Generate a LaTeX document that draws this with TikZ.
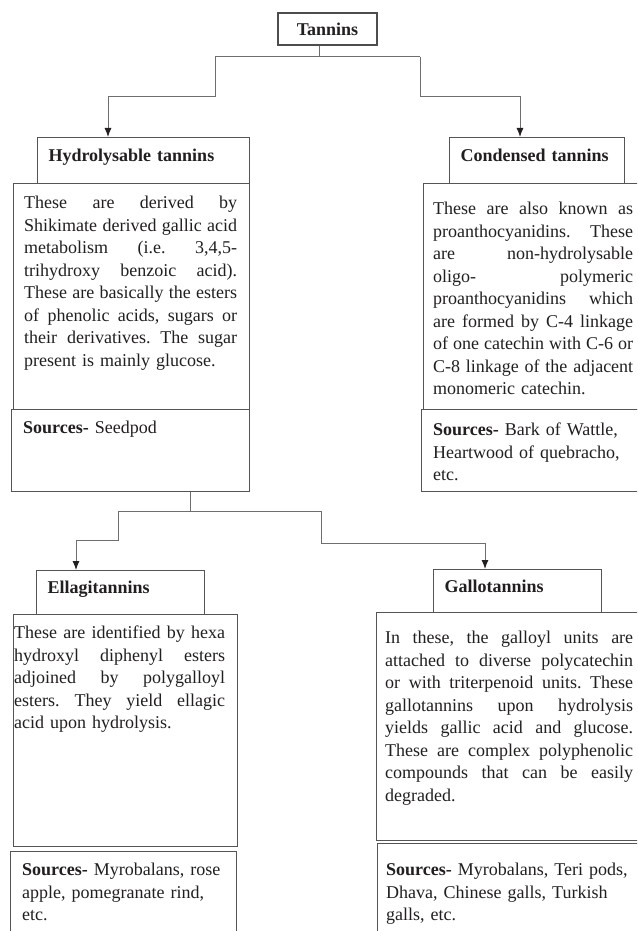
\documentclass[tikz,border=0pt]{standalone}
\usepackage{fontspec}
\setmainfont{Liberation Serif}
\usetikzlibrary{arrows.meta,calc}
\definecolor{ink}{HTML}{231F20}
\definecolor{frame}{HTML}{555555}
\definecolor{wire}{HTML}{6E6E6E}
\definecolor{stemblue}{HTML}{4A6FB5}
\newcommand\jl[1]{\makebox[\hsize][s]{\spaceskip=.25em plus 1fil\xspaceskip=.25em plus 1fil\relax #1}}
\begin{document}
\begin{tikzpicture}[x=1pt,y=-1pt,
  font=\fontsize{18}{22.5}\selectfont\frenchspacing, text=ink,
  frm/.style={draw=frame, line width=1.1pt, inner sep=0pt, anchor=north west},
  head/.style={frm, text width=#1, align=left, inner xsep=11pt, inner ysep=0pt,
    text height=12pt, text depth=10pt, font=\fontsize{18}{22.5}\selectfont\bfseries},
  bodytxt/.style={inner sep=0pt, anchor=north west, text width=#1, align=left},
  conn/.style={draw=wire, line width=1pt},
  arr/.style={-{Latex[length=9pt,width=7pt,color=ink]}},
  stemline/.style={draw=stemblue, line width=1pt}]
\useasboundingbox (0,0) rectangle (637,931);
\fill[white] (0,0) rectangle (637,931);
\begin{scope}
\clip (0,0) rectangle (637,931);
% top level
\node[frm, draw=ink!80, anchor=center, minimum width=99pt, minimum height=32pt,
  font=\fontsize{18}{22.5}\selectfont\bfseries] (tan) at (327.5,29) {Tannins};
\node[head=190pt, minimum height=46pt] (hyd) at (37,137) {Hydrolysable tannins};
\node[head=153pt, minimum height=46pt] (cond) at (449,137) {Condensed tannins};
\node[frm, minimum width=236pt, minimum height=226pt] (hydbody) at (13,183) {};
\node[frm, minimum width=238pt, minimum height=82pt] (hydsrc) at (11,409) {};
\node[frm, minimum width=240pt, minimum height=226pt] (condbody) at (423,183) {};
\node[frm, minimum width=242pt, minimum height=82pt] (condsrc) at (421,409) {};
% second level
\node[head=146pt, minimum height=44pt] (ell) at (36,570) {Ellagitannins};
\node[head=146pt, minimum height=43pt] (gal) at (433,569) {Gallotannins};
\node[frm, minimum width=224pt, minimum height=232pt] (ellbody) at (13,614) {};
\node[frm, minimum width=226pt, minimum height=110pt] (ellsrc) at (10,851) {};
\node[frm, minimum width=280pt, minimum height=228pt] (galbody) at (376,612) {};
\node[frm, minimum width=280pt, minimum height=110pt] (galsrc) at (377,843) {};
% texts
\node[bodytxt=213pt] (hydtxt) at ([shift={(11,13)}]hydbody.north west) {%
\jl{These are derived by}\\
\jl{Shikimate derived gallic acid}\\
\jl{metabolism (i.e. 3,4,5-}\\
\jl{trihydroxy benzoic acid).}\\
\jl{These are basically the esters}\\
\jl{of phenolic acids, sugars or}\\
\jl{their derivatives. The sugar}\\
present is mainly glucose.};
\node[bodytxt=225pt] (hydsrctxt) at ([shift={(12,12)}]hydsrc.north west) {\textbf{Sources-} Seedpod};
\node[bodytxt=200pt] (condtxt) at ([shift={(10,19)}]condbody.north west) {%
\jl{These are also known as}\\
\jl{proanthocyanidins. These}\\
\jl{are non-hydrolysable}\\
\jl{oligo- polymeric}\\
\jl{proanthocyanidins which}\\
\jl{are formed by C-4 linkage}\\
\jl{of one catechin with C-6 or}\\
\jl{C-8 linkage of the adjacent}\\
monomeric catechin.};
\node[bodytxt=210pt] (condsrctxt) at ([shift={(12,14)}]condsrc.north west) {%
\textbf{Sources-} Bark of Wattle,\\
Heartwood of quebracho,\\
etc.};
\node[bodytxt=211pt] (elltxt) at ([shift={(1,12)}]ellbody.north west) {%
\jl{These are identified by hexa}\\
\jl{hydroxyl diphenyl esters}\\
\jl{adjoined by polygalloyl}\\
\jl{esters. They yield ellagic}\\
acid upon hydrolysis.};
\node[bodytxt=215pt] (ellsrctxt) at ([shift={(12,12)}]ellsrc.north west) {%
\textbf{Sources-} Myrobalans, rose\\
apple, pomegranate rind,\\
etc.};
\node[bodytxt=248pt] (galtxt) at ([shift={(9,19)}]galbody.north west) {%
\jl{In these, the galloyl units are}\\
\jl{attached to diverse polycatechin}\\
\jl{or with triterpenoid units. These}\\
\jl{gallotannins upon hydrolysis}\\
\jl{yields gallic acid and glucose.}\\
\jl{These are complex polyphenolic}\\
\jl{compounds that can be easily}\\
degraded.};
\node[bodytxt=250pt] (galsrctxt) at ([shift={(9,20)}]galsrc.north west) {%
\textbf{Sources-} Myrobalans, Teri pods,\\
Dhava, Chinese galls, Turkish\\
galls, etc.};
% connectors, level 1
\coordinate (j1) at (319,57);
\coordinate (jl) at (215,57);
\coordinate (jr) at (420,57);
\coordinate (kl) at (108,97);
\coordinate (kr) at (520,97);
\draw[stemline] (tan.south -| j1) -- (j1);
\draw[conn] (jl) -- (jr);
\draw[conn,arr] (jl) |- (kl) -- (kl |- hyd.north);
\draw[conn,arr] (jr) |- (kr) -- (kr |- cond.north);
% connectors, level 2
\coordinate (j2) at (190,511);
\coordinate (ml) at (118,511);
\coordinate (mr) at (321,511);
\coordinate (nl) at (76,540);
\coordinate (nr) at (485,543);
\draw[conn] (hydsrc.south -| j2) -- (j2);
\draw[conn] (ml) -- (mr);
\draw[conn,arr] (ml) |- (nl) -- (nl |- ell.north);
\draw[conn,arr] (mr) |- (nr) -- (nr |- gal.north);
\end{scope}
\end{tikzpicture}
\end{document}
